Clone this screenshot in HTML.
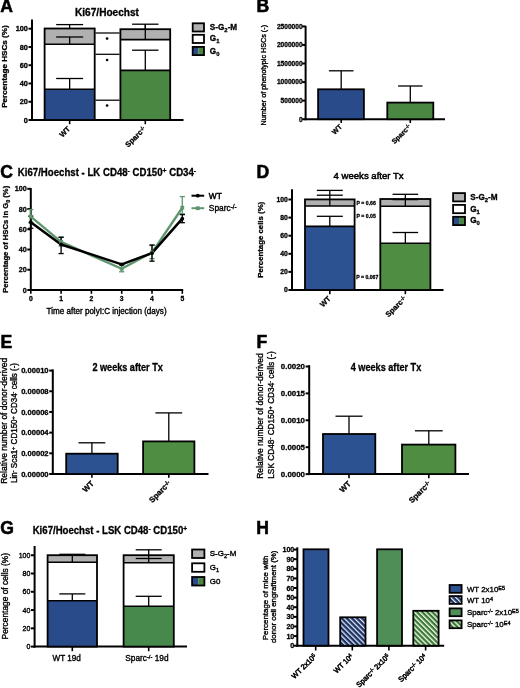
<!DOCTYPE html>
<html><head><meta charset="utf-8"><style>
html,body{margin:0;padding:0;background:#fff;width:520px;height:688px;overflow:hidden}
svg{display:block;filter:blur(0.4px);font-family:"Liberation Sans", sans-serif}
text.r{stroke:#000;stroke-width:0.36px;stroke-linejoin:round}
text.b{stroke:#000;stroke-width:0.3px;stroke-linejoin:round}
text.m{stroke:#000;stroke-width:0.5px;stroke-linejoin:round}
text.L{stroke:#000;stroke-width:0.55px;stroke-linejoin:round}
</style></head><body>
<svg width="520" height="688" viewBox="0 0 520 688">
<rect width="520" height="688" fill="#fff"/>
<text class="L" x="0.20" y="12.40" font-size="17.6" font-weight="bold" text-anchor="start" >A</text>
<text class="L" x="256.60" y="12.40" font-size="17.6" font-weight="bold" text-anchor="start" >B</text>
<text class="L" x="0.30" y="177.80" font-size="17.6" font-weight="bold" text-anchor="start" >C</text>
<text class="L" x="256.50" y="178.00" font-size="17.6" font-weight="bold" text-anchor="start" >D</text>
<text class="L" x="0.40" y="347.90" font-size="17.6" font-weight="bold" text-anchor="start" >E</text>
<text class="L" x="256.60" y="347.50" font-size="17.6" font-weight="bold" text-anchor="start" >F</text>
<text class="L" x="0.20" y="534.00" font-size="17.6" font-weight="bold" text-anchor="start" >G</text>
<text class="L" x="256.20" y="534.00" font-size="17.6" font-weight="bold" text-anchor="start" >H</text>
<line x1="32.00" y1="19.50" x2="32.00" y2="121.00" stroke="#000" stroke-width="2.0"/>
<line x1="28.50" y1="120.00" x2="32.00" y2="120.00" stroke="#000" stroke-width="2.0"/>
<text class="b" x="27.90" y="122.63" font-size="7.3" font-weight="bold" text-anchor="end" >0</text>
<line x1="28.50" y1="101.74" x2="32.00" y2="101.74" stroke="#000" stroke-width="2.0"/>
<text class="b" x="27.90" y="104.37" font-size="7.3" font-weight="bold" text-anchor="end" >20</text>
<line x1="28.50" y1="83.48" x2="32.00" y2="83.48" stroke="#000" stroke-width="2.0"/>
<text class="b" x="27.90" y="86.11" font-size="7.3" font-weight="bold" text-anchor="end" >40</text>
<line x1="28.50" y1="65.22" x2="32.00" y2="65.22" stroke="#000" stroke-width="2.0"/>
<text class="b" x="27.90" y="67.85" font-size="7.3" font-weight="bold" text-anchor="end" >60</text>
<line x1="28.50" y1="46.96" x2="32.00" y2="46.96" stroke="#000" stroke-width="2.0"/>
<text class="b" x="27.90" y="49.59" font-size="7.3" font-weight="bold" text-anchor="end" >80</text>
<line x1="28.50" y1="28.70" x2="32.00" y2="28.70" stroke="#000" stroke-width="2.0"/>
<text class="b" x="27.90" y="31.33" font-size="7.3" font-weight="bold" text-anchor="end" >100</text>
<line x1="31.00" y1="120.00" x2="183.50" y2="120.00" stroke="#000" stroke-width="2.0"/>
<text class="b" x="107.00" y="15.60" font-size="10.1" font-weight="bold" text-anchor="middle" >Ki67/Hoechst</text>
<text class="b" x="7.40" y="66.60" font-size="8.0" font-weight="bold" text-anchor="middle" transform="rotate(-90 7.40 66.60)"  textLength="82.5" lengthAdjust="spacingAndGlyphs">Percentage HSCs (%)</text>
<rect x="44.6" y="28.5" width="50.1" height="15.700000000000003" fill="#b0b0b0"/>
<rect x="44.6" y="89.2" width="50.1" height="30.799999999999997" fill="#2a4b89"/>
<rect x="44.60" y="28.50" width="50.10" height="91.50" fill="none" stroke="#000" stroke-width="1.8" />
<line x1="44.60" y1="44.20" x2="94.70" y2="44.20" stroke="#000" stroke-width="1.6"/>
<line x1="44.60" y1="89.20" x2="94.70" y2="89.20" stroke="#000" stroke-width="1.6"/>
<line x1="69.65" y1="28.50" x2="69.65" y2="24.60" stroke="#000" stroke-width="1.3"/>
<line x1="56.15" y1="24.60" x2="83.15" y2="24.60" stroke="#000" stroke-width="1.3"/>
<line x1="69.65" y1="44.20" x2="69.65" y2="37.00" stroke="#000" stroke-width="1.3"/>
<line x1="56.15" y1="37.00" x2="83.15" y2="37.00" stroke="#000" stroke-width="1.3"/>
<line x1="69.65" y1="89.20" x2="69.65" y2="78.50" stroke="#000" stroke-width="1.3"/>
<line x1="56.15" y1="78.50" x2="83.15" y2="78.50" stroke="#000" stroke-width="1.3"/>
<rect x="120.4" y="29.2" width="49.8" height="10.400000000000002" fill="#b0b0b0"/>
<rect x="120.4" y="70.4" width="49.8" height="49.599999999999994" fill="#4a8742"/>
<rect x="120.40" y="29.20" width="49.80" height="90.80" fill="none" stroke="#000" stroke-width="1.8" />
<line x1="120.40" y1="39.60" x2="170.20" y2="39.60" stroke="#000" stroke-width="1.6"/>
<line x1="120.40" y1="70.40" x2="170.20" y2="70.40" stroke="#000" stroke-width="1.6"/>
<line x1="145.30" y1="29.20" x2="145.30" y2="24.20" stroke="#000" stroke-width="1.3"/>
<line x1="132.10" y1="24.20" x2="158.50" y2="24.20" stroke="#000" stroke-width="1.3"/>
<line x1="145.30" y1="24.20" x2="145.30" y2="39.60" stroke="#000" stroke-width="1.3"/>
<line x1="145.30" y1="70.40" x2="145.30" y2="50.20" stroke="#000" stroke-width="1.3"/>
<line x1="132.10" y1="50.20" x2="158.50" y2="50.20" stroke="#000" stroke-width="1.3"/>
<line x1="95.40" y1="33.00" x2="119.60" y2="33.00" stroke="#000" stroke-width="1.25"/>
<line x1="95.40" y1="54.30" x2="119.60" y2="54.30" stroke="#000" stroke-width="1.25"/>
<line x1="95.40" y1="100.20" x2="119.60" y2="100.20" stroke="#000" stroke-width="1.25"/>
<circle cx="107.1" cy="38.6" r="1.3" fill="#000"/>
<circle cx="107.1" cy="60.0" r="1.3" fill="#000"/>
<circle cx="107.1" cy="105.5" r="1.3" fill="#000"/>
<line x1="69.65" y1="120.00" x2="69.65" y2="124.20" stroke="#000" stroke-width="1.6"/>
<text class="b" x="70.85" y="129.40" font-size="7.5" font-weight="bold" text-anchor="end" transform="rotate(-45 70.85 129.40)" >WT</text>
<line x1="145.30" y1="120.00" x2="145.30" y2="124.20" stroke="#000" stroke-width="1.6"/>
<text class="b" x="146.50" y="129.40" font-size="7.5" font-weight="bold" text-anchor="end" transform="rotate(-45 146.50 129.40)" >Sparc<tspan font-size="70%" baseline-shift="38%">-/-</tspan></text>
<rect x="192.70" y="23.30" width="11.30" height="8.20" fill="#b0b0b0" stroke="#000" stroke-width="1.8" />
<rect x="192.70" y="34.80" width="11.30" height="8.20" fill="#fff" stroke="#000" stroke-width="1.8" />
<rect x="192.70" y="46.90" width="5.65" height="8.20" fill="#2a4b89"/>
<rect x="198.35" y="46.90" width="5.65" height="8.20" fill="#4a8742"/>
<rect x="192.70" y="46.90" width="11.30" height="8.20" fill="none" stroke="#000" stroke-width="1.8" />
<text class="b" x="209.80" y="29.94" font-size="8.2" font-weight="bold" text-anchor="start" >S-G<tspan font-size="72%" baseline-shift="-38%">2</tspan>-M</text>
<text class="b" x="209.80" y="41.44" font-size="8.2" font-weight="bold" text-anchor="start" >G<tspan font-size="72%" baseline-shift="-38%">1</tspan></text>
<text class="b" x="209.80" y="53.54" font-size="8.2" font-weight="bold" text-anchor="start" >G<tspan font-size="72%" baseline-shift="-38%">0</tspan></text>
<line x1="305.60" y1="25.90" x2="305.60" y2="120.20" stroke="#000" stroke-width="2.0"/>
<line x1="302.20" y1="119.20" x2="305.60" y2="119.20" stroke="#000" stroke-width="2.0"/>
<text class="b" x="302.60" y="121.58" font-size="6.6" font-weight="bold" text-anchor="end" >0</text>
<line x1="302.20" y1="100.64" x2="305.60" y2="100.64" stroke="#000" stroke-width="2.0"/>
<text class="b" x="302.60" y="103.02" font-size="6.6" font-weight="bold" text-anchor="end" >500000</text>
<line x1="302.20" y1="82.08" x2="305.60" y2="82.08" stroke="#000" stroke-width="2.0"/>
<text class="b" x="302.60" y="84.46" font-size="6.6" font-weight="bold" text-anchor="end" >1000000</text>
<line x1="302.20" y1="63.52" x2="305.60" y2="63.52" stroke="#000" stroke-width="2.0"/>
<text class="b" x="302.60" y="65.90" font-size="6.6" font-weight="bold" text-anchor="end" >1500000</text>
<line x1="302.20" y1="44.96" x2="305.60" y2="44.96" stroke="#000" stroke-width="2.0"/>
<text class="b" x="302.60" y="47.34" font-size="6.6" font-weight="bold" text-anchor="end" >2000000</text>
<line x1="302.20" y1="26.40" x2="305.60" y2="26.40" stroke="#000" stroke-width="2.0"/>
<text class="b" x="302.60" y="28.78" font-size="6.6" font-weight="bold" text-anchor="end" >2500000</text>
<line x1="304.60" y1="119.20" x2="445.00" y2="119.20" stroke="#000" stroke-width="2.0"/>
<text class="r" x="265.60" y="75.20" font-size="7.3" font-weight="normal" text-anchor="middle" transform="rotate(-90 265.60 75.20)"  textLength="100.5" lengthAdjust="spacingAndGlyphs">Number of phenotypic HSCs (-)</text>
<rect x="318.10" y="89.30" width="45.80" height="29.90" fill="#2a4b89" stroke="#000" stroke-width="1.8" />
<line x1="341.20" y1="89.30" x2="341.20" y2="70.80" stroke="#000" stroke-width="1.3"/>
<line x1="328.90" y1="70.80" x2="353.50" y2="70.80" stroke="#000" stroke-width="1.3"/>
<rect x="387.30" y="102.60" width="46.00" height="16.60" fill="#4a8742" stroke="#000" stroke-width="1.8" />
<line x1="410.30" y1="102.60" x2="410.30" y2="86.00" stroke="#000" stroke-width="1.3"/>
<line x1="398.10" y1="86.00" x2="422.50" y2="86.00" stroke="#000" stroke-width="1.3"/>
<line x1="341.20" y1="119.20" x2="341.20" y2="123.00" stroke="#000" stroke-width="1.6"/>
<text class="b" x="342.50" y="127.20" font-size="7.0" font-weight="bold" text-anchor="end" transform="rotate(-45 342.50 127.20)" >WT</text>
<line x1="410.30" y1="119.20" x2="410.30" y2="123.00" stroke="#000" stroke-width="1.6"/>
<text class="b" x="411.60" y="127.20" font-size="7.0" font-weight="bold" text-anchor="end" transform="rotate(-45 411.60 127.20)" >Sparc<tspan font-size="70%" baseline-shift="38%">-/-</tspan></text>
<line x1="30.80" y1="188.00" x2="30.80" y2="291.00" stroke="#000" stroke-width="2.0"/>
<line x1="27.30" y1="290.00" x2="30.80" y2="290.00" stroke="#000" stroke-width="2.0"/>
<text class="b" x="26.70" y="292.59" font-size="7.2" font-weight="bold" text-anchor="end" >0</text>
<line x1="27.30" y1="269.76" x2="30.80" y2="269.76" stroke="#000" stroke-width="2.0"/>
<text class="b" x="26.70" y="272.35" font-size="7.2" font-weight="bold" text-anchor="end" >20</text>
<line x1="27.30" y1="249.52" x2="30.80" y2="249.52" stroke="#000" stroke-width="2.0"/>
<text class="b" x="26.70" y="252.11" font-size="7.2" font-weight="bold" text-anchor="end" >40</text>
<line x1="27.30" y1="229.28" x2="30.80" y2="229.28" stroke="#000" stroke-width="2.0"/>
<text class="b" x="26.70" y="231.87" font-size="7.2" font-weight="bold" text-anchor="end" >60</text>
<line x1="27.30" y1="209.04" x2="30.80" y2="209.04" stroke="#000" stroke-width="2.0"/>
<text class="b" x="26.70" y="211.63" font-size="7.2" font-weight="bold" text-anchor="end" >80</text>
<line x1="27.30" y1="188.80" x2="30.80" y2="188.80" stroke="#000" stroke-width="2.0"/>
<text class="b" x="26.70" y="191.39" font-size="7.2" font-weight="bold" text-anchor="end" >100</text>
<line x1="29.80" y1="290.00" x2="183.20" y2="290.00" stroke="#000" stroke-width="2.0"/>
<line x1="30.80" y1="290.00" x2="30.80" y2="293.80" stroke="#000" stroke-width="1.6"/>
<text class="b" x="30.80" y="301.00" font-size="6.8" font-weight="bold" text-anchor="middle" >0</text>
<line x1="61.10" y1="290.00" x2="61.10" y2="293.80" stroke="#000" stroke-width="1.6"/>
<text class="b" x="61.10" y="301.00" font-size="6.8" font-weight="bold" text-anchor="middle" >1</text>
<line x1="91.40" y1="290.00" x2="91.40" y2="293.80" stroke="#000" stroke-width="1.6"/>
<text class="b" x="91.40" y="301.00" font-size="6.8" font-weight="bold" text-anchor="middle" >2</text>
<line x1="121.70" y1="290.00" x2="121.70" y2="293.80" stroke="#000" stroke-width="1.6"/>
<text class="b" x="121.70" y="301.00" font-size="6.8" font-weight="bold" text-anchor="middle" >3</text>
<line x1="152.00" y1="290.00" x2="152.00" y2="293.80" stroke="#000" stroke-width="1.6"/>
<text class="b" x="152.00" y="301.00" font-size="6.8" font-weight="bold" text-anchor="middle" >4</text>
<line x1="182.30" y1="290.00" x2="182.30" y2="293.80" stroke="#000" stroke-width="1.6"/>
<text class="b" x="182.30" y="301.00" font-size="6.8" font-weight="bold" text-anchor="middle" >5</text>
<text class="r" x="106.60" y="313.60" font-size="8.3" font-weight="normal" text-anchor="middle"  textLength="120" lengthAdjust="spacingAndGlyphs">Time after polyI:C injection (days)</text>
<text class="b" x="17.80" y="175.50" font-size="10.1" font-weight="bold" text-anchor="start"  textLength="178.3" lengthAdjust="spacingAndGlyphs">Ki67/Hoechst - LK CD48<tspan font-size="70%" baseline-shift="38%">-</tspan> CD150<tspan font-size="70%" baseline-shift="38%">+</tspan> CD34<tspan font-size="70%" baseline-shift="38%">-</tspan></text>
<text class="b" x="7.60" y="239.30" font-size="7.7" font-weight="bold" text-anchor="middle" transform="rotate(-90 7.60 239.30)"  textLength="107" lengthAdjust="spacingAndGlyphs">Percentage of HSCs in G<tspan font-size="72%" baseline-shift="-38%">0</tspan> (%)</text>
<polyline points="30.80,216.63 61.10,241.93 91.40,255.34 121.70,268.75 152.00,252.56 182.30,207.72" fill="none" stroke="#5f966e" stroke-width="2.4" stroke-linejoin="round"/>
<line x1="30.80" y1="209.55" x2="30.80" y2="222.70" stroke="#5f966e" stroke-width="1.3"/>
<line x1="28.20" y1="209.55" x2="33.40" y2="209.55" stroke="#5f966e" stroke-width="1.3"/>
<line x1="28.20" y1="222.70" x2="33.40" y2="222.70" stroke="#5f966e" stroke-width="1.3"/>
<line x1="61.10" y1="236.87" x2="61.10" y2="245.98" stroke="#5f966e" stroke-width="1.3"/>
<line x1="58.50" y1="236.87" x2="63.70" y2="236.87" stroke="#5f966e" stroke-width="1.3"/>
<line x1="58.50" y1="245.98" x2="63.70" y2="245.98" stroke="#5f966e" stroke-width="1.3"/>
<line x1="121.70" y1="264.70" x2="121.70" y2="271.78" stroke="#5f966e" stroke-width="1.3"/>
<line x1="119.10" y1="264.70" x2="124.30" y2="264.70" stroke="#5f966e" stroke-width="1.3"/>
<line x1="119.10" y1="271.78" x2="124.30" y2="271.78" stroke="#5f966e" stroke-width="1.3"/>
<line x1="152.00" y1="245.47" x2="152.00" y2="258.63" stroke="#5f966e" stroke-width="1.3"/>
<line x1="149.40" y1="245.47" x2="154.60" y2="245.47" stroke="#5f966e" stroke-width="1.3"/>
<line x1="149.40" y1="258.63" x2="154.60" y2="258.63" stroke="#5f966e" stroke-width="1.3"/>
<line x1="182.30" y1="196.59" x2="182.30" y2="213.80" stroke="#5f966e" stroke-width="1.3"/>
<line x1="179.70" y1="196.59" x2="184.90" y2="196.59" stroke="#5f966e" stroke-width="1.3"/>
<line x1="179.70" y1="213.80" x2="184.90" y2="213.80" stroke="#5f966e" stroke-width="1.3"/>
<polyline points="30.80,222.20 61.10,244.46 91.40,254.43 121.70,264.40 152.00,253.06 182.30,218.65" fill="none" stroke="#000" stroke-width="2.5" stroke-linejoin="round"/>
<line x1="30.80" y1="216.12" x2="30.80" y2="228.27" stroke="#000" stroke-width="1.3"/>
<line x1="28.20" y1="216.12" x2="33.40" y2="216.12" stroke="#000" stroke-width="1.3"/>
<line x1="28.20" y1="228.27" x2="33.40" y2="228.27" stroke="#000" stroke-width="1.3"/>
<line x1="61.10" y1="237.38" x2="61.10" y2="253.57" stroke="#000" stroke-width="1.3"/>
<line x1="58.50" y1="237.38" x2="63.70" y2="237.38" stroke="#000" stroke-width="1.3"/>
<line x1="58.50" y1="253.57" x2="63.70" y2="253.57" stroke="#000" stroke-width="1.3"/>
<line x1="121.70" y1="263.89" x2="121.70" y2="264.90" stroke="#000" stroke-width="1.3"/>
<line x1="119.10" y1="263.89" x2="124.30" y2="263.89" stroke="#000" stroke-width="1.3"/>
<line x1="119.10" y1="264.90" x2="124.30" y2="264.90" stroke="#000" stroke-width="1.3"/>
<line x1="152.00" y1="244.97" x2="152.00" y2="261.16" stroke="#000" stroke-width="1.3"/>
<line x1="149.40" y1="244.97" x2="154.60" y2="244.97" stroke="#000" stroke-width="1.3"/>
<line x1="149.40" y1="261.16" x2="154.60" y2="261.16" stroke="#000" stroke-width="1.3"/>
<line x1="182.30" y1="214.61" x2="182.30" y2="222.70" stroke="#000" stroke-width="1.3"/>
<line x1="179.70" y1="214.61" x2="184.90" y2="214.61" stroke="#000" stroke-width="1.3"/>
<line x1="179.70" y1="222.70" x2="184.90" y2="222.70" stroke="#000" stroke-width="1.3"/>
<rect x="28.90" y="214.73" width="3.8" height="3.8" fill="#5f966e"/>
<rect x="59.20" y="240.03" width="3.8" height="3.8" fill="#5f966e"/>
<rect x="119.80" y="266.85" width="3.8" height="3.8" fill="#5f966e"/>
<rect x="150.10" y="250.66" width="3.8" height="3.8" fill="#5f966e"/>
<rect x="180.40" y="205.82" width="3.8" height="3.8" fill="#5f966e"/>
<circle cx="30.80" cy="222.20" r="1.9" fill="#000"/>
<circle cx="61.10" cy="244.46" r="1.9" fill="#000"/>
<circle cx="121.70" cy="264.40" r="1.9" fill="#000"/>
<circle cx="152.00" cy="253.06" r="1.9" fill="#000"/>
<circle cx="182.30" cy="218.65" r="1.9" fill="#000"/>
<line x1="191.50" y1="195.70" x2="204.20" y2="195.70" stroke="#000" stroke-width="2.0"/>
<circle cx="197.8" cy="195.7" r="1.9" fill="#000"/>
<text class="m" x="208.80" y="198.80" font-size="8.4" font-weight="normal" text-anchor="start" >WT</text>
<line x1="191.50" y1="208.20" x2="204.20" y2="208.20" stroke="#5f966e" stroke-width="2.0"/>
<rect x="195.9" y="206.3" width="3.8" height="3.8" fill="#5f966e"/>
<text class="r" x="208.80" y="211.30" font-size="8.4" font-weight="normal" text-anchor="start" >Sparc<tspan font-size="75%" baseline-shift="38%">-/-</tspan></text>
<line x1="292.00" y1="189.20" x2="292.00" y2="291.00" stroke="#000" stroke-width="2.0"/>
<line x1="288.40" y1="290.00" x2="292.00" y2="290.00" stroke="#000" stroke-width="2.0"/>
<text class="b" x="287.80" y="292.45" font-size="6.8" font-weight="bold" text-anchor="end" >0</text>
<line x1="288.40" y1="271.90" x2="292.00" y2="271.90" stroke="#000" stroke-width="2.0"/>
<text class="b" x="287.80" y="274.35" font-size="6.8" font-weight="bold" text-anchor="end" >20</text>
<line x1="288.40" y1="253.80" x2="292.00" y2="253.80" stroke="#000" stroke-width="2.0"/>
<text class="b" x="287.80" y="256.25" font-size="6.8" font-weight="bold" text-anchor="end" >40</text>
<line x1="288.40" y1="235.70" x2="292.00" y2="235.70" stroke="#000" stroke-width="2.0"/>
<text class="b" x="287.80" y="238.15" font-size="6.8" font-weight="bold" text-anchor="end" >60</text>
<line x1="288.40" y1="217.60" x2="292.00" y2="217.60" stroke="#000" stroke-width="2.0"/>
<text class="b" x="287.80" y="220.05" font-size="6.8" font-weight="bold" text-anchor="end" >80</text>
<line x1="288.40" y1="199.50" x2="292.00" y2="199.50" stroke="#000" stroke-width="2.0"/>
<text class="b" x="287.80" y="201.95" font-size="6.8" font-weight="bold" text-anchor="end" >100</text>
<line x1="291.00" y1="290.00" x2="443.50" y2="290.00" stroke="#000" stroke-width="2.0"/>
<text class="b" x="263.00" y="239.80" font-size="8.0" font-weight="bold" text-anchor="middle" transform="rotate(-90 263.00 239.80)"  textLength="76" lengthAdjust="spacingAndGlyphs">Percentage cells (%)</text>
<text class="m" x="368.60" y="178.50" font-size="9.3" font-weight="normal" text-anchor="middle"  textLength="70.0" lengthAdjust="spacingAndGlyphs">4 weeks after Tx</text>
<rect x="305.0" y="199.4" width="49.6" height="6.599999999999994" fill="#b0b0b0"/>
<rect x="305.0" y="226.4" width="49.6" height="63.599999999999994" fill="#2c5291"/>
<rect x="305.00" y="199.40" width="49.60" height="90.60" fill="none" stroke="#000" stroke-width="1.8" />
<line x1="305.00" y1="206.00" x2="354.60" y2="206.00" stroke="#000" stroke-width="1.6"/>
<line x1="305.00" y1="226.40" x2="354.60" y2="226.40" stroke="#000" stroke-width="1.6"/>
<line x1="329.80" y1="199.40" x2="329.80" y2="190.40" stroke="#000" stroke-width="1.3"/>
<line x1="316.80" y1="190.40" x2="342.80" y2="190.40" stroke="#000" stroke-width="1.3"/>
<line x1="316.80" y1="195.20" x2="342.80" y2="195.20" stroke="#000" stroke-width="1.3"/>
<line x1="329.80" y1="199.40" x2="329.80" y2="206.00" stroke="#000" stroke-width="1.3"/>
<line x1="329.80" y1="226.40" x2="329.80" y2="216.30" stroke="#000" stroke-width="1.3"/>
<line x1="316.80" y1="216.30" x2="342.80" y2="216.30" stroke="#000" stroke-width="1.3"/>
<rect x="380.3" y="199.0" width="50.1" height="7.199999999999989" fill="#b0b0b0"/>
<rect x="380.3" y="243.2" width="50.1" height="46.80000000000001" fill="#4f8d42"/>
<rect x="380.30" y="199.00" width="50.10" height="91.00" fill="none" stroke="#000" stroke-width="1.8" />
<line x1="380.30" y1="206.20" x2="430.40" y2="206.20" stroke="#000" stroke-width="1.6"/>
<line x1="380.30" y1="243.20" x2="430.40" y2="243.20" stroke="#000" stroke-width="1.6"/>
<line x1="405.35" y1="199.00" x2="405.35" y2="194.30" stroke="#000" stroke-width="1.3"/>
<line x1="392.55" y1="194.30" x2="418.15" y2="194.30" stroke="#000" stroke-width="1.3"/>
<line x1="392.55" y1="199.60" x2="418.15" y2="199.60" stroke="#000" stroke-width="1.3"/>
<line x1="405.35" y1="199.00" x2="405.35" y2="206.20" stroke="#000" stroke-width="1.3"/>
<line x1="405.35" y1="243.20" x2="405.35" y2="232.50" stroke="#000" stroke-width="1.3"/>
<line x1="392.55" y1="232.50" x2="418.15" y2="232.50" stroke="#000" stroke-width="1.3"/>
<text class="b" x="356.60" y="204.60" font-size="5.3" font-weight="bold" text-anchor="start"  textLength="19.2" lengthAdjust="spacingAndGlyphs">P = 0.66</text>
<text class="b" x="356.60" y="217.70" font-size="5.3" font-weight="bold" text-anchor="start"  textLength="19.2" lengthAdjust="spacingAndGlyphs">P = 0.05</text>
<text class="b" x="356.30" y="279.00" font-size="5.3" font-weight="bold" text-anchor="start"  textLength="22.0" lengthAdjust="spacingAndGlyphs">P = 0.067</text>
<line x1="329.80" y1="290.00" x2="329.80" y2="294.20" stroke="#000" stroke-width="1.6"/>
<text class="b" x="331.30" y="299.20" font-size="7.5" font-weight="bold" text-anchor="end" transform="rotate(-45 331.30 299.20)" >WT</text>
<line x1="405.35" y1="290.00" x2="405.35" y2="294.20" stroke="#000" stroke-width="1.6"/>
<text class="b" x="406.85" y="299.20" font-size="7.5" font-weight="bold" text-anchor="end" transform="rotate(-45 406.85 299.20)" >Sparc<tspan font-size="70%" baseline-shift="38%">-/-</tspan></text>
<rect x="453.10" y="193.10" width="11.90" height="8.30" fill="#b0b0b0" stroke="#000" stroke-width="1.8" />
<rect x="453.10" y="204.90" width="11.90" height="8.30" fill="#fff" stroke="#000" stroke-width="1.8" />
<rect x="453.10" y="216.80" width="5.95" height="8.30" fill="#2a4b89"/>
<rect x="459.05" y="216.80" width="5.95" height="8.30" fill="#4a8742"/>
<rect x="453.10" y="216.80" width="11.90" height="8.30" fill="none" stroke="#000" stroke-width="1.8" />
<text class="b" x="470.20" y="199.79" font-size="8.2" font-weight="bold" text-anchor="start" >S-G<tspan font-size="72%" baseline-shift="-38%">2</tspan>-M</text>
<text class="b" x="470.20" y="211.59" font-size="8.2" font-weight="bold" text-anchor="start" >G<tspan font-size="72%" baseline-shift="-38%">1</tspan></text>
<text class="b" x="470.20" y="223.49" font-size="8.2" font-weight="bold" text-anchor="start" >G<tspan font-size="72%" baseline-shift="-38%">0</tspan></text>
<line x1="52.80" y1="369.40" x2="52.80" y2="475.00" stroke="#000" stroke-width="2.0"/>
<line x1="49.20" y1="474.00" x2="52.80" y2="474.00" stroke="#000" stroke-width="2.0"/>
<text class="b" x="48.60" y="476.74" font-size="7.6" font-weight="bold" text-anchor="end" >0.00000</text>
<line x1="49.20" y1="453.32" x2="52.80" y2="453.32" stroke="#000" stroke-width="2.0"/>
<text class="b" x="48.60" y="456.06" font-size="7.6" font-weight="bold" text-anchor="end" >0.00002</text>
<line x1="49.20" y1="432.64" x2="52.80" y2="432.64" stroke="#000" stroke-width="2.0"/>
<text class="b" x="48.60" y="435.38" font-size="7.6" font-weight="bold" text-anchor="end" >0.00004</text>
<line x1="49.20" y1="411.96" x2="52.80" y2="411.96" stroke="#000" stroke-width="2.0"/>
<text class="b" x="48.60" y="414.70" font-size="7.6" font-weight="bold" text-anchor="end" >0.00006</text>
<line x1="49.20" y1="391.28" x2="52.80" y2="391.28" stroke="#000" stroke-width="2.0"/>
<text class="b" x="48.60" y="394.02" font-size="7.6" font-weight="bold" text-anchor="end" >0.00008</text>
<line x1="49.20" y1="370.60" x2="52.80" y2="370.60" stroke="#000" stroke-width="2.0"/>
<text class="b" x="48.60" y="373.34" font-size="7.6" font-weight="bold" text-anchor="end" >0.00010</text>
<line x1="51.80" y1="474.00" x2="208.50" y2="474.00" stroke="#000" stroke-width="2.0"/>
<text class="b" x="127.60" y="371.10" font-size="10.1" font-weight="bold" text-anchor="middle"  textLength="70.4" lengthAdjust="spacingAndGlyphs">2 weeks after Tx</text>
<text class="r" x="7.30" y="420.80" font-size="8.3" font-weight="normal" text-anchor="middle" transform="rotate(-90 7.30 420.80)"  textLength="126" lengthAdjust="spacingAndGlyphs">Relative number of donor-derived</text>
<text class="r" x="17.00" y="423.00" font-size="8.2" font-weight="normal" text-anchor="middle" transform="rotate(-90 17.00 423.00)"  textLength="120" lengthAdjust="spacingAndGlyphs">Lin<tspan font-size="70%" baseline-shift="38%">-</tspan> Sca1<tspan font-size="70%" baseline-shift="38%">+</tspan> CD150<tspan font-size="70%" baseline-shift="38%">+</tspan> CD34<tspan font-size="70%" baseline-shift="38%">-</tspan> cells (-)</text>
<rect x="66.20" y="453.70" width="51.50" height="20.30" fill="#2c5291" stroke="#000" stroke-width="1.8" />
<line x1="91.90" y1="453.70" x2="91.90" y2="442.80" stroke="#000" stroke-width="1.3"/>
<line x1="78.50" y1="442.80" x2="105.30" y2="442.80" stroke="#000" stroke-width="1.3"/>
<rect x="143.10" y="441.40" width="51.30" height="32.60" fill="#4f8d42" stroke="#000" stroke-width="1.8" />
<line x1="168.80" y1="441.40" x2="168.80" y2="412.90" stroke="#000" stroke-width="1.3"/>
<line x1="155.40" y1="412.90" x2="182.20" y2="412.90" stroke="#000" stroke-width="1.3"/>
<line x1="91.90" y1="474.00" x2="91.90" y2="477.80" stroke="#000" stroke-width="1.6"/>
<text class="b" x="94.50" y="484.00" font-size="7.9" font-weight="bold" text-anchor="end" transform="rotate(-45 94.50 484.00)" >WT</text>
<line x1="168.80" y1="474.00" x2="168.80" y2="477.80" stroke="#000" stroke-width="1.6"/>
<text class="b" x="171.40" y="484.00" font-size="7.9" font-weight="bold" text-anchor="end" transform="rotate(-45 171.40 484.00)" >Sparc<tspan font-size="70%" baseline-shift="38%">-/-</tspan></text>
<line x1="309.20" y1="365.20" x2="309.20" y2="475.10" stroke="#000" stroke-width="2.0"/>
<line x1="305.60" y1="474.10" x2="309.20" y2="474.10" stroke="#000" stroke-width="2.0"/>
<text class="b" x="305.00" y="476.94" font-size="7.9" font-weight="bold" text-anchor="end" >0.0000</text>
<line x1="305.60" y1="447.20" x2="309.20" y2="447.20" stroke="#000" stroke-width="2.0"/>
<text class="b" x="305.00" y="450.04" font-size="7.9" font-weight="bold" text-anchor="end" >0.0005</text>
<line x1="305.60" y1="420.30" x2="309.20" y2="420.30" stroke="#000" stroke-width="2.0"/>
<text class="b" x="305.00" y="423.14" font-size="7.9" font-weight="bold" text-anchor="end" >0.0010</text>
<line x1="305.60" y1="393.40" x2="309.20" y2="393.40" stroke="#000" stroke-width="2.0"/>
<text class="b" x="305.00" y="396.24" font-size="7.9" font-weight="bold" text-anchor="end" >0.0015</text>
<line x1="305.60" y1="366.50" x2="309.20" y2="366.50" stroke="#000" stroke-width="2.0"/>
<text class="b" x="305.00" y="369.34" font-size="7.9" font-weight="bold" text-anchor="end" >0.0020</text>
<line x1="308.20" y1="474.10" x2="469.00" y2="474.10" stroke="#000" stroke-width="2.0"/>
<text class="b" x="386.00" y="371.10" font-size="10.1" font-weight="bold" text-anchor="middle"  textLength="70.6" lengthAdjust="spacingAndGlyphs">4 weeks after Tx</text>
<text class="r" x="263.30" y="416.00" font-size="8.3" font-weight="normal" text-anchor="middle" transform="rotate(-90 263.30 416.00)"  textLength="125.5" lengthAdjust="spacingAndGlyphs">Relative number of donor-derived</text>
<text class="r" x="273.90" y="415.00" font-size="8.3" font-weight="normal" text-anchor="middle" transform="rotate(-90 273.90 415.00)"  textLength="127.5" lengthAdjust="spacingAndGlyphs">LSK CD48<tspan font-size="70%" baseline-shift="38%">-</tspan> CD150<tspan font-size="70%" baseline-shift="38%">+</tspan> CD34<tspan font-size="70%" baseline-shift="38%">-</tspan> cells (-)</text>
<rect x="323.00" y="434.00" width="52.30" height="40.10" fill="#2c5291" stroke="#000" stroke-width="1.8" />
<line x1="349.00" y1="434.00" x2="349.00" y2="416.20" stroke="#000" stroke-width="1.3"/>
<line x1="335.50" y1="416.20" x2="362.50" y2="416.20" stroke="#000" stroke-width="1.3"/>
<rect x="402.00" y="444.60" width="53.40" height="29.50" fill="#4f8d42" stroke="#000" stroke-width="1.8" />
<line x1="428.80" y1="444.60" x2="428.80" y2="430.80" stroke="#000" stroke-width="1.3"/>
<line x1="414.90" y1="430.80" x2="442.70" y2="430.80" stroke="#000" stroke-width="1.3"/>
<line x1="349.00" y1="474.10" x2="349.00" y2="478.20" stroke="#000" stroke-width="1.6"/>
<text class="b" x="351.40" y="484.40" font-size="7.9" font-weight="bold" text-anchor="end" transform="rotate(-45 351.40 484.40)" >WT</text>
<line x1="428.80" y1="474.10" x2="428.80" y2="478.20" stroke="#000" stroke-width="1.6"/>
<text class="b" x="431.20" y="484.40" font-size="7.9" font-weight="bold" text-anchor="end" transform="rotate(-45 431.20 484.40)" >Sparc<tspan font-size="70%" baseline-shift="38%">-/-</tspan></text>
<line x1="34.60" y1="546.00" x2="34.60" y2="647.60" stroke="#000" stroke-width="2.0"/>
<line x1="31.00" y1="646.60" x2="34.60" y2="646.60" stroke="#000" stroke-width="2.0"/>
<text class="r" x="30.40" y="649.12" font-size="7.0" font-weight="normal" text-anchor="end" >0</text>
<line x1="31.00" y1="628.33" x2="34.60" y2="628.33" stroke="#000" stroke-width="2.0"/>
<text class="r" x="30.40" y="630.85" font-size="7.0" font-weight="normal" text-anchor="end" >20</text>
<line x1="31.00" y1="610.06" x2="34.60" y2="610.06" stroke="#000" stroke-width="2.0"/>
<text class="r" x="30.40" y="612.58" font-size="7.0" font-weight="normal" text-anchor="end" >40</text>
<line x1="31.00" y1="591.79" x2="34.60" y2="591.79" stroke="#000" stroke-width="2.0"/>
<text class="r" x="30.40" y="594.31" font-size="7.0" font-weight="normal" text-anchor="end" >60</text>
<line x1="31.00" y1="573.52" x2="34.60" y2="573.52" stroke="#000" stroke-width="2.0"/>
<text class="r" x="30.40" y="576.04" font-size="7.0" font-weight="normal" text-anchor="end" >80</text>
<line x1="31.00" y1="555.25" x2="34.60" y2="555.25" stroke="#000" stroke-width="2.0"/>
<text class="r" x="30.40" y="557.77" font-size="7.0" font-weight="normal" text-anchor="end" >100</text>
<line x1="33.60" y1="646.60" x2="187.00" y2="646.60" stroke="#000" stroke-width="2.0"/>
<text class="b" x="32.70" y="533.60" font-size="10.1" font-weight="bold" text-anchor="start"  textLength="154.5" lengthAdjust="spacingAndGlyphs">Ki67/Hoechst - LSK CD48<tspan font-size="70%" baseline-shift="38%">-</tspan> CD150<tspan font-size="70%" baseline-shift="38%">+</tspan></text>
<text class="r" x="7.90" y="596.20" font-size="8.5" font-weight="normal" text-anchor="middle" transform="rotate(-90 7.90 596.20)"  textLength="86.4" lengthAdjust="spacingAndGlyphs">Percentage of cells (%)</text>
<rect x="47.6" y="555.2" width="49.4" height="7.0" fill="#b0b0b0"/>
<rect x="47.6" y="600.8" width="49.4" height="45.80000000000007" fill="#2a4b89"/>
<rect x="47.60" y="555.20" width="49.40" height="91.40" fill="none" stroke="#000" stroke-width="1.8" />
<line x1="47.60" y1="562.20" x2="97.00" y2="562.20" stroke="#000" stroke-width="1.6"/>
<line x1="47.60" y1="600.80" x2="97.00" y2="600.80" stroke="#000" stroke-width="1.6"/>
<line x1="72.30" y1="555.20" x2="72.30" y2="562.20" stroke="#000" stroke-width="1.3"/>
<line x1="59.30" y1="554.30" x2="85.30" y2="554.30" stroke="#000" stroke-width="1.3"/>
<line x1="72.30" y1="600.80" x2="72.30" y2="593.90" stroke="#000" stroke-width="1.3"/>
<line x1="59.30" y1="593.90" x2="85.30" y2="593.90" stroke="#000" stroke-width="1.3"/>
<rect x="123.6" y="555.2" width="50.2" height="7.599999999999909" fill="#b0b0b0"/>
<rect x="123.6" y="606.2" width="50.2" height="40.39999999999998" fill="#47884c"/>
<rect x="123.60" y="555.20" width="50.20" height="91.40" fill="none" stroke="#000" stroke-width="1.8" />
<line x1="123.60" y1="562.80" x2="173.80" y2="562.80" stroke="#000" stroke-width="1.6"/>
<line x1="123.60" y1="606.20" x2="173.80" y2="606.20" stroke="#000" stroke-width="1.6"/>
<line x1="148.70" y1="555.20" x2="148.70" y2="549.80" stroke="#000" stroke-width="1.3"/>
<line x1="135.70" y1="549.80" x2="161.70" y2="549.80" stroke="#000" stroke-width="1.3"/>
<line x1="135.70" y1="558.50" x2="161.70" y2="558.50" stroke="#000" stroke-width="1.3"/>
<line x1="148.70" y1="555.20" x2="148.70" y2="562.80" stroke="#000" stroke-width="1.3"/>
<line x1="148.70" y1="606.20" x2="148.70" y2="596.30" stroke="#000" stroke-width="1.3"/>
<line x1="135.70" y1="596.30" x2="161.70" y2="596.30" stroke="#000" stroke-width="1.3"/>
<line x1="72.30" y1="646.60" x2="72.30" y2="651.20" stroke="#000" stroke-width="1.6"/>
<text class="r" x="66.70" y="661.30" font-size="8.3" font-weight="normal" text-anchor="middle"  textLength="28.3" lengthAdjust="spacingAndGlyphs">WT 19d</text>
<line x1="148.70" y1="646.60" x2="148.70" y2="651.20" stroke="#000" stroke-width="1.6"/>
<text class="r" x="146.90" y="661.30" font-size="8.3" font-weight="normal" text-anchor="middle"  textLength="43.2" lengthAdjust="spacingAndGlyphs">Sparc<tspan font-size="70%" baseline-shift="38%">-/-</tspan> 19d</text>
<rect x="192.10" y="549.50" width="12.30" height="8.50" fill="#b0b0b0" stroke="#000" stroke-width="1.8" />
<rect x="192.10" y="563.30" width="12.30" height="8.50" fill="#fff" stroke="#000" stroke-width="1.8" />
<rect x="192.10" y="577.00" width="6.15" height="8.50" fill="#2a4b89"/>
<rect x="198.25" y="577.00" width="6.15" height="8.50" fill="#4a8742"/>
<rect x="192.10" y="577.00" width="12.30" height="8.50" fill="none" stroke="#000" stroke-width="1.8" />
<text class="r" x="209.80" y="556.21" font-size="7.95" font-weight="normal" text-anchor="start" >S-G<tspan font-size="72%" baseline-shift="-38%">2</tspan>-M</text>
<text class="r" x="209.80" y="570.01" font-size="7.95" font-weight="normal" text-anchor="start" >G<tspan font-size="72%" baseline-shift="-38%">1</tspan></text>
<text class="r" x="209.80" y="583.71" font-size="7.95" font-weight="normal" text-anchor="start" >G0</text>
<line x1="297.30" y1="547.30" x2="297.30" y2="646.70" stroke="#000" stroke-width="2.0"/>
<line x1="293.90" y1="645.70" x2="297.30" y2="645.70" stroke="#000" stroke-width="2.0"/>
<text class="b" x="294.30" y="648.26" font-size="7.1" font-weight="bold" text-anchor="end" >0</text>
<line x1="293.90" y1="636.09" x2="297.30" y2="636.09" stroke="#000" stroke-width="2.0"/>
<text class="b" x="294.30" y="638.64" font-size="7.1" font-weight="bold" text-anchor="end" >10</text>
<line x1="293.90" y1="626.47" x2="297.30" y2="626.47" stroke="#000" stroke-width="2.0"/>
<text class="b" x="294.30" y="629.03" font-size="7.1" font-weight="bold" text-anchor="end" >20</text>
<line x1="293.90" y1="616.86" x2="297.30" y2="616.86" stroke="#000" stroke-width="2.0"/>
<text class="b" x="294.30" y="619.41" font-size="7.1" font-weight="bold" text-anchor="end" >30</text>
<line x1="293.90" y1="607.24" x2="297.30" y2="607.24" stroke="#000" stroke-width="2.0"/>
<text class="b" x="294.30" y="609.80" font-size="7.1" font-weight="bold" text-anchor="end" >40</text>
<line x1="293.90" y1="597.62" x2="297.30" y2="597.62" stroke="#000" stroke-width="2.0"/>
<text class="b" x="294.30" y="600.18" font-size="7.1" font-weight="bold" text-anchor="end" >50</text>
<line x1="293.90" y1="588.01" x2="297.30" y2="588.01" stroke="#000" stroke-width="2.0"/>
<text class="b" x="294.30" y="590.57" font-size="7.1" font-weight="bold" text-anchor="end" >60</text>
<line x1="293.90" y1="578.39" x2="297.30" y2="578.39" stroke="#000" stroke-width="2.0"/>
<text class="b" x="294.30" y="580.95" font-size="7.1" font-weight="bold" text-anchor="end" >70</text>
<line x1="293.90" y1="568.78" x2="297.30" y2="568.78" stroke="#000" stroke-width="2.0"/>
<text class="b" x="294.30" y="571.34" font-size="7.1" font-weight="bold" text-anchor="end" >80</text>
<line x1="293.90" y1="559.17" x2="297.30" y2="559.17" stroke="#000" stroke-width="2.0"/>
<text class="b" x="294.30" y="561.72" font-size="7.1" font-weight="bold" text-anchor="end" >90</text>
<line x1="293.90" y1="549.55" x2="297.30" y2="549.55" stroke="#000" stroke-width="2.0"/>
<text class="b" x="294.30" y="552.11" font-size="7.1" font-weight="bold" text-anchor="end" >100</text>
<line x1="296.30" y1="645.70" x2="444.20" y2="645.70" stroke="#000" stroke-width="2.0"/>
<text class="r" x="267.60" y="598.00" font-size="8.0" font-weight="normal" text-anchor="middle" transform="rotate(-90 267.60 598.00)"  textLength="84.6" lengthAdjust="spacingAndGlyphs">Percentage of mice with</text>
<text class="r" x="276.50" y="596.80" font-size="7.9" font-weight="normal" text-anchor="middle" transform="rotate(-90 276.50 596.80)"  textLength="92.5" lengthAdjust="spacingAndGlyphs">donor cell engraftment (%)</text>
<defs><pattern id="hb" patternUnits="userSpaceOnUse" width="3.6" height="3.6" patternTransform="rotate(-45)"><rect width="3.6" height="3.6" fill="#1c3163"/><rect x="0" y="0" width="1.25" height="3.6" fill="#e6ecf8"/></pattern><pattern id="hg" patternUnits="userSpaceOnUse" width="3.6" height="3.6" patternTransform="rotate(-45)"><rect width="3.6" height="3.6" fill="#3a7536"/><rect x="0" y="0" width="1.4" height="3.6" fill="#eaf9e2"/></pattern></defs>
<rect x="303.50" y="549.30" width="25.00" height="96.40" fill="#2c5291" stroke="#000" stroke-width="1.8" />
<rect x="340.20" y="617.30" width="25.30" height="28.40" fill="url(#hb)" stroke="#000" stroke-width="1.8" />
<rect x="377.10" y="549.30" width="24.90" height="96.40" fill="#4f8e56" stroke="#000" stroke-width="1.8" />
<rect x="413.30" y="610.80" width="25.30" height="34.90" fill="url(#hg)" stroke="#000" stroke-width="1.8" />
<line x1="315.70" y1="645.70" x2="315.70" y2="650.50" stroke="#000" stroke-width="1.6"/>
<text class="m" x="316.90" y="657.00" font-size="7.5" font-weight="normal" text-anchor="end" transform="rotate(-45 316.90 657.00)"  textLength="31.6" lengthAdjust="spacingAndGlyphs">WT 2x10<tspan font-size="70%" baseline-shift="38%">5</tspan></text>
<line x1="352.30" y1="645.70" x2="352.30" y2="650.50" stroke="#000" stroke-width="1.6"/>
<text class="m" x="353.50" y="657.00" font-size="7.5" font-weight="normal" text-anchor="end" transform="rotate(-45 353.50 657.00)"  textLength="23.7" lengthAdjust="spacingAndGlyphs">WT 10<tspan font-size="70%" baseline-shift="38%">4</tspan></text>
<line x1="388.90" y1="645.70" x2="388.90" y2="650.50" stroke="#000" stroke-width="1.6"/>
<text class="m" x="390.10" y="657.00" font-size="7.5" font-weight="normal" text-anchor="end" transform="rotate(-45 390.10 657.00)"  textLength="43.5" lengthAdjust="spacingAndGlyphs">Sparc<tspan font-size="70%" baseline-shift="38%">-/-</tspan> 2x10<tspan font-size="70%" baseline-shift="38%">5</tspan></text>
<line x1="425.60" y1="645.70" x2="425.60" y2="650.50" stroke="#000" stroke-width="1.6"/>
<text class="m" x="426.80" y="657.00" font-size="7.5" font-weight="normal" text-anchor="end" transform="rotate(-45 426.80 657.00)"  textLength="36.0" lengthAdjust="spacingAndGlyphs">Sparc<tspan font-size="70%" baseline-shift="38%">-/-</tspan> 10<tspan font-size="70%" baseline-shift="38%">4</tspan></text>
<rect x="449.60" y="585.00" width="12.00" height="7.80" fill="#2c5291" stroke="#000" stroke-width="1.8" />
<text class="r" x="466.90" y="591.60" font-size="7.9" font-weight="normal" text-anchor="start" >WT 2x10<tspan font-size="70%" baseline-shift="38%">E5</tspan></text>
<rect x="449.60" y="596.10" width="12.00" height="7.80" fill="url(#hb)" stroke="#000" stroke-width="1.8" />
<text class="r" x="466.90" y="602.70" font-size="7.9" font-weight="normal" text-anchor="start" >WT 10<tspan font-size="70%" baseline-shift="38%">4</tspan></text>
<rect x="449.60" y="608.40" width="12.00" height="7.80" fill="#4f8e56" stroke="#000" stroke-width="1.8" />
<text class="r" x="466.90" y="615.00" font-size="7.9" font-weight="normal" text-anchor="start" >Sparc<tspan font-size="70%" baseline-shift="38%">-/-</tspan> 2x10<tspan font-size="70%" baseline-shift="38%">E5</tspan></text>
<rect x="449.60" y="620.40" width="12.00" height="7.80" fill="url(#hg)" stroke="#000" stroke-width="1.8" />
<text class="r" x="466.90" y="627.00" font-size="7.9" font-weight="normal" text-anchor="start" >Sparc<tspan font-size="70%" baseline-shift="38%">-/-</tspan> 10<tspan font-size="70%" baseline-shift="38%">E4</tspan></text>
</svg>
</body></html>
